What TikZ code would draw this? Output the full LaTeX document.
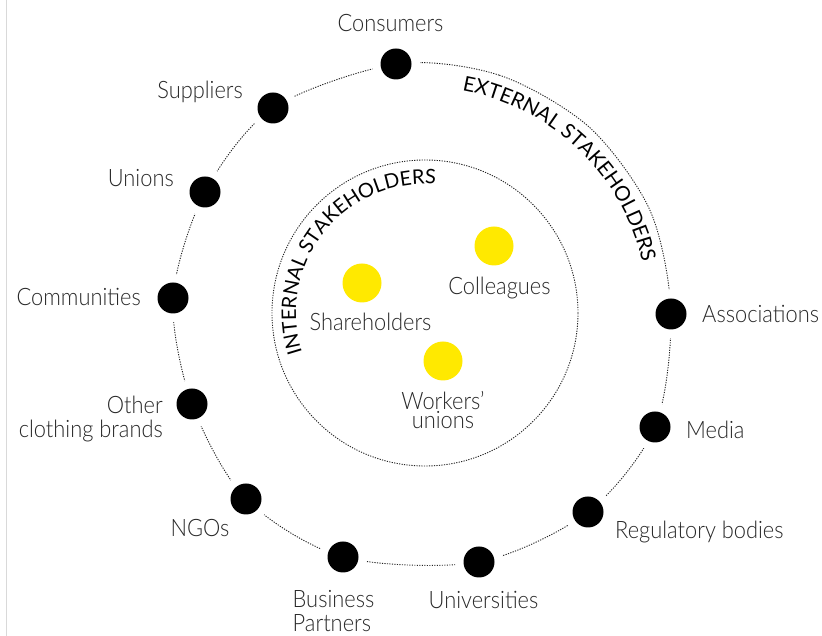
\documentclass[tikz,border=0pt]{standalone}
\usepackage{fontspec}
\setmainfont{Lato}
\newfontfamily\labfont{Lato Light}[FakeStretch=0.91]
\usetikzlibrary{decorations.text,backgrounds}
\definecolor{ylw}{RGB}{255,233,0}
\definecolor{labc}{RGB}{40,40,40}
\definecolor{ringc}{RGB}{35,35,35}
\definecolor{edgec}{RGB}{217,217,217}
\begin{document}
\begin{tikzpicture}[x=1pt,y=1pt,
  bdot/.style={circle, fill=white, inner sep=0pt, minimum size=48pt,
    path picture={\fill[black] (path picture bounding box.center) circle (15.5pt);}},
  ydot/.style={circle, fill=ylw, inner sep=0pt, minimum size=39pt},
  lab/.style={font=\labfont\fontsize{24}{23.7}\selectfont, text=labc, inner sep=0pt},
  ring/.style={draw=ringc, line width=0.9pt, dash pattern=on 1.2pt off 1.3pt},
  curv/.style={decorate, decoration={text along path, text align=center}}]
\useasboundingbox (0,0) rectangle (822,636);

% outer stakeholders
\coordinate (outc) at (422,323);
\coordinate (n1) at (499.3,560.8);
\coordinate (n2) at (589.3,508.8);
\coordinate (n3) at (650.4,424.7);
\node[bdot] (cons) at (396,572) {};
\node[bdot] (supp) at (273,528) {};
\node[bdot] (unio) at (205,444) {};
\node[bdot] (comm) at (173,338) {};
\node[bdot] (othe) at (192,232) {};
\node[bdot] (ngos) at (246,137) {};
\node[bdot] (busi) at (343,79) {};
\node[bdot] (univ) at (479,74) {};
\node[bdot] (regu) at (588,124) {};
\node[bdot] (medi) at (655,209) {};
\node[bdot] (asso) at (671,322) {};

\begin{scope}[on background layer]
\fill[white] (0,0) rectangle (822,636);
\draw[edgec, line width=1.5pt] (6.5,0) -- (6.5,636);
\draw[ring] plot[smooth cycle] coordinates {(cons.center) (n1) (n2) (n3) (asso.center) (medi.center) (regu.center) (univ.center) (busi.center) (ngos.center) (othe.center) (comm.center) (unio.center) (supp.center)};
\end{scope}

% inner circle
\node[circle, ring, minimum size=306pt, inner sep=0pt] (inn) at (425,323) {};
\node[ydot] (share) at (362,353) {};
\node[ydot] (colle) at (494,390) {};
\node[ydot] (worke) at (443,275) {};

% curved titles
\path[curv, decoration={text={|\fontsize{20.5}{21}\selectfont|EXTERNAL STAKEHOLDERS}}]
  ([shift={(88:226)}]outc) arc[start angle=88, end angle=4.7, radius=226];
\path[curv, decoration={text={|\fontsize{20}{20}\selectfont|INTERNAL STAKEHOLDERS}}]
  ([shift={(200:129)}]inn.center) arc[start angle=200, end angle=83.2, radius=129];

% labels
\node[lab, anchor=base] (lcons) at (390.5,604) {Consumers};
\node[lab, anchor=base east] (lsupp) at (243,537.5) {Suppliers};
\node[lab, anchor=base east] (lunio) at (174,449) {Unions};
\node[lab, anchor=base east] (lcomm) at (141,330) {Communities};
\node[lab, anchor=base east, align=right] (lothe) at (163,198.3) {Other\\clothing brands};
\node[lab, anchor=base] (lngos) at (200,99.3) {NGOs};
\node[lab, anchor=base west, align=left] (lbusi) at (292.5,4.3) {Business\\Partners};
\node[lab, anchor=base] (luniv) at (483.5,27) {Universities};
\node[lab, anchor=base west] (lregu) at (615,97.7) {Regulatory bodies};
\node[lab, anchor=base west] (lmedi) at (686,197) {Media};
\node[lab, anchor=base west] (lasso) at (702,313) {Associations};
\node[lab, anchor=base] (lshare) at (370.5,305.3) {Shareholders};
\node[lab, anchor=base] (lcolle) at (499.5,341) {Colleagues};
\node[lab, anchor=base, align=center, font=\labfont\fontsize{24}{19}\selectfont] (lworke) at (443,207) {Workers’\\unions};
\end{tikzpicture}
\end{document}
